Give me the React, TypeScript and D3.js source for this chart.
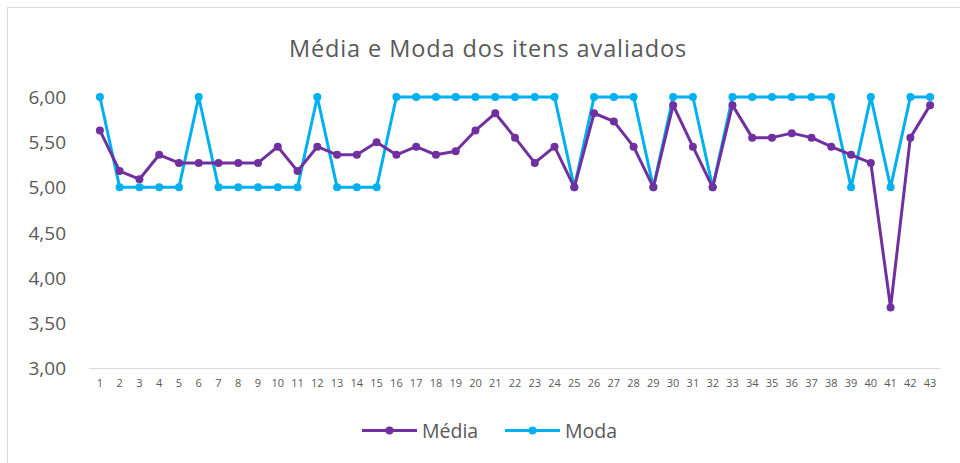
import React from "react";
import * as d3 from "d3";

const categories: string[] = Array.from({ length: 43 }, (_, i) => String(i + 1));
const media: number[] = [
  5.63, 5.18, 5.09, 5.36, 5.27, 5.27, 5.27, 5.27, 5.27, 5.45,
  5.18, 5.45, 5.36, 5.36, 5.5, 5.36, 5.45, 5.36, 5.4, 5.63,
  5.82, 5.55, 5.27, 5.45, 5.0, 5.82, 5.73, 5.45, 5.0, 5.91,
  5.45, 5.0, 5.91, 5.55, 5.55, 5.6, 5.55, 5.45, 5.36, 5.27,
  3.67, 5.55, 5.91,
];
const moda: number[] = [
  6, 5, 5, 5, 5, 6, 5, 5, 5, 5,
  5, 6, 5, 5, 5, 6, 6, 6, 6, 6,
  6, 6, 6, 6, 5, 6, 6, 6, 5, 6,
  6, 5, 6, 6, 6, 6, 6, 6, 5, 6,
  5, 6, 6,
];
const yTicks: number[] = [3, 3.5, 4, 4.5, 5, 5.5, 6];
const seriesNames = ["Média", "Moda"];
const colors = ["#7030A0", "#00B0F0"];

const FONT = "'Open Sans', 'Liberation Sans', sans-serif";

export default function App() {
  const W = 960, H = 463;
  const x = d3.scaleBand<string>().domain(categories).range([90, 940]);
  const y = d3.scaleLinear().domain([3, 6]).range([368, 97]);
  const cx = (i: number) => (x(categories[i]) as number) + x.bandwidth() / 2;
  const line = d3.line<number>().x((_, i) => cx(i)).y((d) => y(d));
  const series = [media, moda];
  const fmt = (v: number) => v.toFixed(2).replace(".", ",");

  return (
    <svg width={W} height={H} style={{ position: "absolute", left: 0, top: 0, background: "#fff" }}>
      <rect x={7.5} y={7.5} width={1200} height={1200} fill="#fff" stroke="#D9D9D9" strokeWidth={1} />
      <text x={488} y={57} textAnchor="middle" fontFamily={FONT} fontSize={23.5} letterSpacing={0.9} fill="#595959">
        Média e Moda dos itens avaliados
      </text>
      {yTicks.map((t) => (
        <text key={t} x={66} y={y(t) + 7} textAnchor="end" fontFamily={FONT} fontSize={19} fill="#595959">
          {fmt(t)}
        </text>
      ))}
      <line x1={89} x2={940} y1={368.5} y2={368.5} stroke="#D9D9D9" strokeWidth={1} />
      {categories.map((c, i) => (
        <text key={c} x={cx(i)} y={387} textAnchor="middle" fontFamily={FONT} fontSize={11} fill="#595959">
          {c}
        </text>
      ))}
      {[1, 0].map((s) => (
        <g key={s}>
          <path d={line(series[s]) || ""} fill="none" stroke={colors[s]} strokeWidth={3} strokeLinejoin="round" />
          {series[s].map((v, i) => (
            <circle key={i} cx={cx(i)} cy={y(v)} r={4} fill={colors[s]} />
          ))}
        </g>
      ))}
      {seriesNames.map((n, i) => {
        const lx = i === 0 ? 362 : 505;
        return (
          <g key={n}>
            <line x1={lx} x2={lx + 55} y1={430.5} y2={430.5} stroke={colors[i]} strokeWidth={3} />
            <circle cx={lx + 27.5} cy={430.5} r={4} fill={colors[i]} />
            <text x={lx + 60} y={438} fontFamily={FONT} fontSize={19.5} fill="#595959">{n}</text>
          </g>
        );
      })}
    </svg>
  );
}
